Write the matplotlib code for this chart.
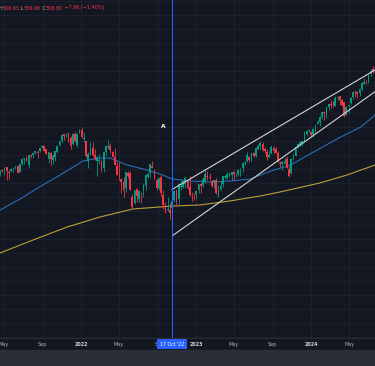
import numpy as np
import pandas as pd
import matplotlib
matplotlib.use("Agg")
import matplotlib.pyplot as plt
import matplotlib.dates as mdates
import matplotlib.transforms as mtransforms
from matplotlib.patches import Rectangle

# weekly candles, first week starting 2021-04-19
first_week = "2021-04-19"

opens = [
    413.7, 417.4, 419.4, 422.5, 415.4, 417.3, 422.6, 422.6, 424.4, 416.1,
    427.2, 433.8, 436.2, 426.2, 439.3, 440.3, 442.5, 444.5, 445.2, 450.97,
    453.3, 448.6, 434.9, 442.8, 433.0, 437.2, 443.97, 454.3, 460.3, 469.7,
    468.6, 470.9, 464.1, 456.1, 470.2, 454.5, 472.1,
    476.3, 462.7, 459.7, 432.0, 441.2, 449.5, 439.9, 431.9, 432.0, 431.6,
    420.9, 444.3, 452.1, 453.1, 444.1, 436.8, 423.7, 412.1, 405.1, 401.7,
    392.8, 413.9, 414.8, 379.85, 371.9, 391.05, 376.6, 385.85, 388.4, 395.75,
    409.15, 415.0, 424.8, 417.05, 405.0, 393.1, 408.8, 382.3, 366.0, 361.1,
    361.2, 364.0, 375.9, 390.1, 377.7, 394.6, 394.6, 399.1, 403.95, 394.3,
    383.5, 382.8,
    384.4, 390.4, 399.0, 396.7, 402.8, 409.8, 408.7, 403.1, 399.9, 405.0,
    381.8, 390.8, 398.1, 408.85, 406.6, 410.7, 411.99, 415.5, 411.1, 412.2,
    418.6, 422.0, 428.3, 430.9, 437.5, 432.6, 442.9, 438.2, 449.1, 453.4,
    456.3, 448.7, 444.7, 437.55, 442.2, 450.7, 448.0, 443.05, 429.2, 426.6,
    427.6, 433.8, 419.6, 413.6, 435.7, 439.2, 450.5, 454.65, 455.6, 459.7,
    470.0, 474.1,
    472.2, 468.4, 474.5, 484.0, 487.6, 493.7, 500.97, 497.7, 508.3, 512.0,
    510.5, 510.5, 521.2, 523.8, 519.1, 515.1, 497.8, 509.5, 513.75, 522.6,
    529.6, 530.1, 529.0, 534.1, 542.1, 544.3, 545.6, 555.4, 563.0,
]
highs = [
    418.25, 420.7, 422.8, 422.7, 418.2, 421.25, 422.9, 424.6, 425.5, 427.1,
    434.1, 435.8, 437.9, 440.3, 441.8, 442.9, 445.9, 447.1, 450.65, 454.05,
    453.6, 448.9, 444.9, 444.05, 441.7, 446.3, 454.7, 459.6, 470.65, 470.2,
    470.9, 473.5, 466.6, 470.9, 472.9, 470.9, 477.85,
    479.98, 473.2, 459.96, 444.0, 458.1, 457.9, 448.1, 438.7, 441.1, 432.3,
    444.9, 452.98, 462.07, 457.8, 445.75, 450.0, 429.6, 429.7, 406.4, 408.6,
    415.4, 417.4, 416.6, 383.9, 390.1, 393.2, 390.7, 386.9, 400.2, 413.0,
    415.7, 427.2, 431.7, 419.96, 405.8, 407.5, 411.7, 389.3, 372.3, 379.5,
    370.9, 375.45, 389.5, 390.4, 399.35, 402.3, 402.9, 410.0, 404.9, 410.5,
    387.4, 385.4,
    389.25, 399.1, 400.2, 408.2, 418.3, 416.5, 415.0, 404.2, 404.5, 407.45,
    396.5, 402.5, 409.7, 411.9, 415.1, 415.1, 416.2, 417.6, 414.5, 420.7,
    420.8, 428.7, 431.99, 443.9, 438.4, 444.3, 444.1, 451.4, 456.4, 459.4,
    458.2, 451.0, 448.1, 445.7, 453.7, 452.6, 451.1, 446.3, 432.1, 431.1,
    437.3, 438.1, 424.8, 436.3, 440.9, 451.4, 456.4, 459.65, 460.2, 473.98,
    475.9, 477.55,
    473.7, 478.6, 482.7, 490.0, 496.0, 501.65, 503.5, 510.1, 513.3, 518.2,
    517.4, 524.1, 524.6, 524.4, 520.4, 515.3, 509.9, 512.6, 522.6, 531.0,
    533.1, 531.3, 536.0, 543.6, 550.3, 547.0, 555.1, 562.3, 566.65,
]
lows = [
    410.6, 416.3, 411.7, 404.0, 405.3, 415.8, 416.3, 420.3, 414.7, 415.9,
    425.5, 427.5, 430.9, 421.97, 435.1, 436.1, 441.3, 436.1, 443.7, 450.7,
    445.3, 441.0, 428.9, 426.4, 427.2, 431.5, 443.3, 452.4, 458.2, 462.0,
    465.4, 458.06, 448.9, 453.6, 458.1, 451.5, 472.0,
    464.65, 459.0, 437.8, 420.8, 439.8, 438.9, 432.4, 410.6, 427.1, 415.1,
    415.8, 440.7, 449.1, 443.4, 436.7, 425.4, 411.2, 405.0, 385.2, 380.5,
    386.96, 406.9, 389.75, 362.2, 370.2, 372.6, 372.9, 371.0, 380.7, 389.95,
    406.8, 408.9, 421.7, 405.25, 390.04, 390.5, 382.1, 363.3, 357.04, 360.0,
    348.1, 357.3, 373.1, 368.8, 369.4, 390.0, 392.7, 393.3, 391.6, 381.0,
    374.8, 376.4,
    377.8, 386.3, 385.35, 393.6, 400.3, 404.4, 404.05, 393.6, 392.3, 384.3,
    380.65, 389.4, 393.7, 405.7, 405.97, 408.2, 403.8, 403.7, 408.9, 409.9,
    409.9, 416.2, 425.8, 430.2, 429.6, 431.2, 437.1, 437.1, 447.5, 449.0,
    446.3, 443.3, 433.0, 435.0, 441.6, 442.75, 443.3, 429.6, 422.3, 418.9,
    427.0, 421.1, 409.2, 412.2, 433.4, 438.4, 450.2, 452.6, 453.1, 458.9,
    467.0, 473.3,
    466.4, 466.4, 471.2, 483.8, 481.3, 491.3, 490.7, 493.55, 504.0, 506.9,
    508.4, 510.0, 519.0, 511.8, 510.1, 493.9, 497.2, 499.9, 512.6, 519.8,
    522.6, 522.1, 524.0, 532.0, 541.9, 541.8, 543.4, 553.5, 556.96,
]
closes = [
    416.7, 417.3, 422.1, 416.6, 414.9, 420.0, 422.6, 424.3, 414.9, 427.0,
    433.7, 435.5, 431.3, 439.9, 438.5, 442.5, 445.9, 443.4, 450.3, 453.1,
    445.4, 441.4, 443.9, 434.2, 437.9, 446.0, 453.1, 459.3, 468.5, 467.3,
    468.9, 459.0, 453.4, 470.7, 459.9, 470.6, 474.96,
    466.1, 464.7, 437.98, 441.95, 448.7, 440.5, 434.2, 437.8, 432.2, 420.1,
    444.5, 452.7, 452.9, 447.6, 437.8, 426.0, 412.0, 411.3, 401.7, 389.6,
    415.3, 410.5, 389.8, 365.9, 390.1, 381.2, 388.7, 385.1, 395.1, 412.0,
    413.5, 427.1, 422.1, 405.3, 392.2, 406.6, 385.6, 368.0, 357.2, 362.8,
    357.6, 374.3, 389.0, 376.35, 398.5, 396.0, 402.3, 406.9, 393.3, 383.3,
    382.9, 382.4,
    388.1, 398.5, 395.9, 405.7, 412.4, 408.0, 407.3, 396.4, 404.2, 385.9,
    390.0, 395.75, 409.4, 409.2, 412.5, 412.2, 415.9, 412.6, 411.6, 418.6,
    420.0, 427.9, 429.9, 439.5, 433.2, 443.3, 438.6, 449.3, 452.2, 456.9,
    446.8, 445.65, 436.5, 439.97, 451.2, 445.5, 443.4, 430.4, 427.5, 429.5,
    431.5, 421.2, 410.7, 434.7, 440.6, 450.8, 455.3, 459.1, 460.2, 469.3,
    473.65, 475.3,
    467.9, 476.7, 482.4, 487.4, 494.35, 501.2, 499.5, 507.85, 512.85, 511.7,
    509.8, 521.2, 523.1, 518.4, 510.85, 495.2, 508.3, 511.3, 520.8, 529.45,
    529.4, 527.4, 534.0, 542.8, 544.5, 544.2, 554.6, 560.0, 558.8,
]

# moving averages
ma_fast_dates = ["2021-04-19", "2021-06-21", "2021-08-23", "2021-10-16", "2021-11-27",
                 "2022-01-07", "2022-03-02", "2022-04-03", "2022-05-27", "2022-07-30",
                 "2022-09-09", "2022-10-18", "2022-12-14", "2023-02-16", "2023-04-20",
                 "2023-06-23", "2023-08-26", "2023-10-28", "2024-01-09", "2024-04-04",
                 "2024-06-07", "2024-07-22"]
ma_fast = [361.4, 377.0, 394.5, 408.6, 420.0, 431.4, 435.7, 435.7, 425.7, 418.6,
           412.9, 405.7, 402.9, 401.4, 402.9, 405.7, 417.1, 425.7, 444.3, 465.7,
           480.0, 497.1]

ma_slow_dates = ["2021-04-19", "2021-08-02", "2021-11-18", "2022-03-02", "2022-06-15",
                 "2022-10-18", "2023-01-13", "2023-04-18", "2023-07-23", "2023-09-24",
                 "2024-01-29", "2024-04-24", "2024-07-22"]
ma_slow = [300.0, 318.6, 337.1, 351.4, 362.9, 367.1, 368.6, 374.3, 381.4, 387.1,
           400.0, 411.4, 425.7]

# drawn trend lines (start / end)
upper_dates = ["2022-10-17", "2024-07-22"]
upper_prices = [390.7, 561.4]
lower_dates = ["2022-10-19", "2024-07-22"]
lower_prices = [325.0, 530.4]

marker_date, marker_price = "2022-09-19", 481.0
cursor_date = "2022-10-17"
cursor_label = "17 Oct '22"

tick_dates = ["2021-05-01", "2021-09-01", "2022-01-01", "2022-05-01", "2022-09-01",
              "2023-01-01", "2023-05-01", "2023-09-01", "2024-01-01", "2024-05-01"]
# the Sep 2022 label sits under the crosshair date box, only its "S" shows
tick_labels = ["May", "Sep", "2022", "May", "S", "2023", "May", "Sep", "2024", "May"]

title_parts = [("H", "#b2b5be"), ("566.65", "#f23645"), (" L", "#b2b5be"),
               ("556.96", "#f23645"), (" C", "#b2b5be"), ("558.80", "#f23645"),
               (" \u22127.96 (\u22121.40%)", "#f23645")]

BG = "#131722"
GRID = "#1e222d"
UP = "#089981"
DOWN = "#f23645"


def num(d):
    return mdates.date2num(pd.to_datetime(d))


W, H = 375, 366
fig = plt.figure(figsize=(W / 100, H / 100), dpi=100, facecolor=BG)
ax = fig.add_axes([0, 28 / H, 1, 338 / H], facecolor=BG)
fig.patches.append(Rectangle((0, 0), 1, 16 / H, transform=fig.transFigure,
                             color="#2a2e39", zorder=0))

x = num(pd.date_range(first_week, periods=len(closes), freq="W-MON"))
o, h, l, c = map(np.array, (opens, highs, lows, closes))
cols = np.where(c >= o, UP, DOWN)
ax.vlines(x, l, h, colors=cols, lw=0.6, zorder=3)
ax.bar(x, np.maximum(np.abs(c - o), 0.6), bottom=np.minimum(o, c), width=5.6,
       color=cols, lw=0, zorder=4)

ax.plot(num(ma_fast_dates), ma_fast, color="#2b6cb5", lw=0.8, zorder=2)
ax.plot(num(ma_slow_dates), ma_slow, color="#b9a136", lw=0.8, zorder=2)

ax.plot(num(upper_dates), upper_prices, color="#d1d4dc", lw=0.8, zorder=5)
ax.plot(num(lower_dates), lower_prices, color="#d1d4dc", lw=0.8, zorder=5)

ax.axvline(num(cursor_date), color="#2962ff", lw=0.75, zorder=6)
ax.text(num(marker_date), marker_price, "A", color="white", fontsize=4.2,
        fontweight="bold", ha="center", va="center", zorder=7)

ax.set_xlim(num("2021-04-19"), num("2024-07-22"))
ax.set_ylim(178.6, 661.4)
ax.set_yticks(np.arange(180, 661, 20))
ax.set_xticks(num(tick_dates))
ax.set_xticklabels(tick_labels)
ax.tick_params(axis="both", length=0, labelsize=3.5, pad=2.6, labelcolor="#b2b5be")
ax.tick_params(axis="y", labelleft=False)
for lab in ax.get_xticklabels():
    if lab.get_text().isdigit():
        lab.set_color("#d1d4dc")
        lab.set_fontweight("bold")
    if lab.get_text() == "S":
        lab.set_ha("right")
ax.grid(True, color=GRID, lw=0.6)
ax.set_axisbelow(True)
for side in ("top", "left", "right"):
    ax.spines[side].set_visible(False)
ax.spines["bottom"].set_color("#2a2e39")
ax.spines["bottom"].set_linewidth(0.6)

trans = mtransforms.blended_transform_factory(ax.transData, ax.transAxes)
ax.text(num(cursor_date), -6 / 338, cursor_label, transform=trans, ha="center",
        va="center", fontsize=3.3, color="white", clip_on=False, zorder=10,
        bbox=dict(boxstyle="square,pad=0.6", fc="#2962ff", ec="none"))

# OHLC legend at the top left, pieces chained one after the other
prev = fig.text(-0.004, 1 - 8 / H, title_parts[0][0], color=title_parts[0][1],
                fontsize=3.5, va="center", ha="left")
for txt, col in title_parts[1:]:
    prev = ax.annotate(txt, xy=(1, 0.5), xycoords=prev, va="center", ha="left",
                       color=col, fontsize=3.5, annotation_clip=False)

fig.savefig("out.png", dpi=100, facecolor=BG)
